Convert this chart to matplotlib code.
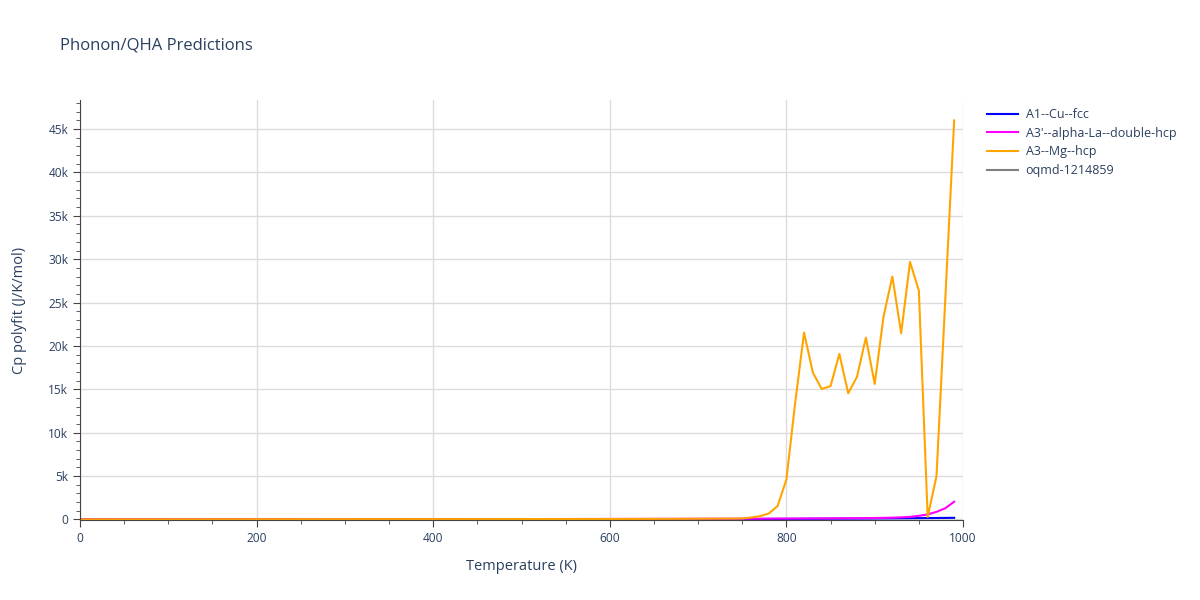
import numpy as np
import matplotlib
matplotlib.use("Agg")
import matplotlib.pyplot as plt
from matplotlib.ticker import MultipleLocator, FuncFormatter

plt.rcParams['font.family'] = ['Open Sans', 'DejaVu Sans']

# Temperature grid (K)
temps = list(range(0, 1000, 10))

# Cp polyfit values (J/K/mol)
cu_fcc = [
    0, 5, 13, 17, 19.5, 21, 22, 22.6, 23, 23.4,
    23.7, 23.9, 24.1, 24.2, 24.3, 24.4, 24.5, 24.6, 24.7, 24.8,
    24.9, 25, 25.1, 25.2, 25.3, 25.4, 25.5, 25.6, 25.7, 25.8,
    25.9, 26, 26.1, 26.2, 26.3, 26.4, 26.5, 26.6, 26.7, 26.8,
    26.9, 27, 27.1, 27.2, 27.3, 27.4, 27.5, 27.6, 27.7, 27.8,
    28, 28.2, 28.4, 28.6, 28.8, 29, 29.3, 29.6, 30, 30.5,
    31, 31.5, 32, 33, 34, 35, 36, 37, 38, 40,
    42, 44, 46, 48, 50, 52, 55, 58, 61, 64,
    68, 72, 76, 80, 85, 90, 95, 100, 106, 112,
    118, 125, 132, 140, 148, 156, 164, 172, 180, 190,
]
la_double_hcp = [
    0, 12, 18, 21, 23, 24, 25, 25.5, 26, 26.5,
    27, 27.5, 28, 28.5, 29, 29.5, 30, 30.5, 31, 31.5,
    32, 32.5, 33, 33.5, 34, 34.5, 35, 35.5, 36, 36.5,
    37, 37.5, 38, 38.5, 39, 39.5, 40, 40.5, 41, 41.5,
    42, 42.5, 43, 43.5, 44, 45, 46, 47, 48, 49,
    50, 51, 52, 53, 54, 55, 56, 57, 58, 59,
    60, 62, 64, 66, 68, 70, 72, 74, 76, 78,
    80, 82, 84, 86, 88, 90, 93, 96, 100, 105,
    110, 115, 120, 125, 130, 135, 140, 145, 150, 160,
    170, 190, 210, 250, 300, 420, 580, 880, 1300, 2050,
]
mg_hcp = [
    0, 10, 16, 19, 21, 22, 23, 23.5, 24, 24.5,
    25, 25.5, 26, 26.5, 27, 27.5, 28, 28.5, 29, 29.5,
    30, 30.5, 31, 31.5, 32, 32.5, 33, 33.5, 34, 34.5,
    35, 35.5, 36, 36.5, 37, 37.5, 38, 38.5, 39, 39.5,
    40, 40.5, 41, 41.5, 42, 43, 44, 45, 46, 47,
    48, 49, 50, 51, 52, 53, 54, 55, 56, 57,
    58, 60, 62, 64, 66, 68, 70, 72, 74, 80,
    85, 90, 95, 100, 100, 120, 230, 380, 690, 1540,
    4600, 13500, 21540, 16920, 15040, 15380, 19080, 14540, 16460, 20960,
    15620, 23380, 28000, 21460, 29690, 26380, 300, 5000, 25500, 46000,
]
oqmd_temps = []
oqmd_1214859 = []

series = [
    ("A1--Cu--fcc", temps, cu_fcc, "#0000ff"),
    ("A3'--alpha-La--double-hcp", temps, la_double_hcp, "#ff00ff"),
    ("A3--Mg--hcp", temps, mg_hcp, "#ffa500"),
    ("oqmd-1214859", oqmd_temps, oqmd_1214859, "#808080"),
]

text_color = "#2a3f5f"
fig = plt.figure(figsize=(12, 6), dpi=100)
ax = fig.add_axes([80 / 1200, 80 / 600, 883 / 1200, 420 / 600])

for name, x, y, c in series:
    ax.plot(x, y, color=c, lw=1.5, label=name)

ax.set_xlim(0, 1000)
ax.set_ylim(-60, 48350)

ax.xaxis.set_major_locator(MultipleLocator(200))
ax.xaxis.set_minor_locator(MultipleLocator(50))
ax.yaxis.set_major_locator(MultipleLocator(5000))
ax.yaxis.set_minor_locator(MultipleLocator(1000))
ax.yaxis.set_major_formatter(FuncFormatter(lambda v, p: "0" if v == 0 else f"{int(v / 1000)}k"))

ax.grid(True, which="major", color="#dcdcdc", lw=1)
ax.set_axisbelow(True)
for s in ["top", "right"]:
    ax.spines[s].set_visible(False)
ax.spines["left"].set_color("#444444")
ax.spines["bottom"].set_color("#444444")
ax.tick_params(which="major", length=5, color="#444444", labelcolor=text_color, labelsize=8.6)
ax.tick_params(which="minor", length=3, color="#444444")

ax.set_xlabel("Temperature (K)", color=text_color, fontsize=10.5, labelpad=10)
ax.set_ylabel("Cp polyfit (J/K/mol)", color=text_color, fontsize=10.5, labelpad=15)
fig.text(60 / 1200, 1 - 45 / 600, "Phonon/QHA Predictions", color=text_color,
         fontsize=12, va="center", ha="left")

fig.legend(loc="upper left", bbox_to_anchor=(982 / 1200, 1 - 103 / 600), frameon=False,
           fontsize=9, labelcolor=text_color, handlelength=2.5, handletextpad=0.6,
           labelspacing=0.45, borderaxespad=0)

fig.savefig("out.png", dpi=100)
